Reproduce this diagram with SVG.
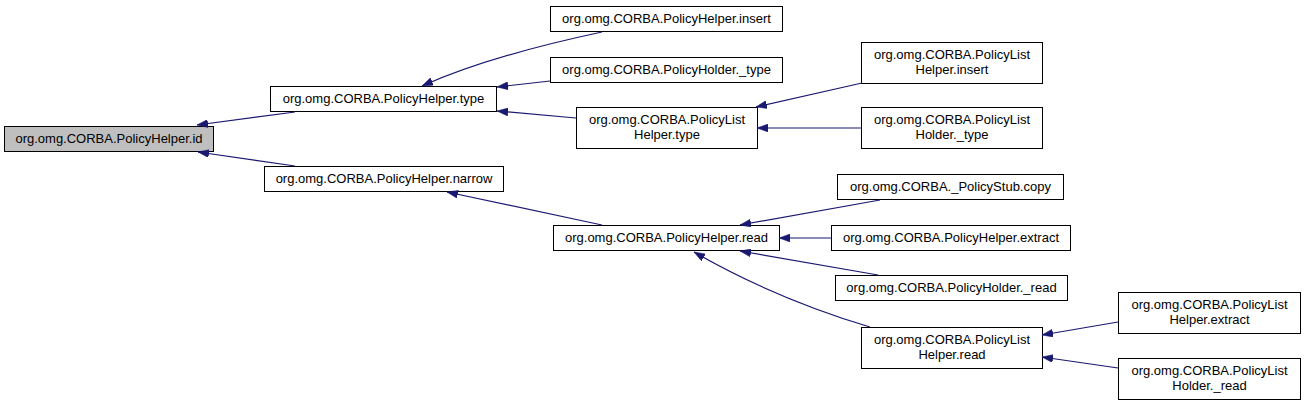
<svg xmlns="http://www.w3.org/2000/svg" width="1304" height="405" viewBox="0 0 1304 405">
<style>
.box{fill:#ffffff;stroke:#000000;stroke-width:1}
.root{fill:#bfbfbf;stroke:#000000;stroke-width:1}
text{font-family:"Liberation Sans",Arial,sans-serif;font-size:13px;fill:#000000;text-anchor:middle}
.edge{fill:none;stroke:#191970;stroke-width:1.2;marker-end:url(#arr)}
</style>
<defs>
<marker id="arr" viewBox="0 0 11 8" refX="11" refY="4" markerWidth="11" markerHeight="8" markerUnits="userSpaceOnUse" orient="auto">
<path d="M0,0 L11,4 L0,8 z" fill="#191970" stroke="#191970" stroke-width="0.5"/>
</marker>
</defs>
<rect width="1304" height="405" fill="#ffffff"/>
<g id="n_id"><rect class="root" x="4.5" y="126.5" width="209" height="25"/><text x="109" y="143">org.omg.CORBA.PolicyHelper.id</text></g>
<g id="n_type"><rect class="box" x="270.5" y="86.5" width="226" height="25"/><text x="383.5" y="103">org.omg.CORBA.PolicyHelper.type</text></g>
<g id="n_narrow"><rect class="box" x="264.5" y="166.5" width="239" height="25"/><text x="384" y="183">org.omg.CORBA.PolicyHelper.narrow</text></g>
<g id="n_insert"><rect class="box" x="550.5" y="6.5" width="232" height="25"/><text x="666.5" y="23">org.omg.CORBA.PolicyHelper.insert</text></g>
<g id="n_holder_type"><rect class="box" x="550.5" y="57.5" width="232" height="25"/><text x="666.5" y="74">org.omg.CORBA.PolicyHolder._type</text></g>
<g id="n_list_type"><rect class="box" x="576.5" y="107.5" width="181" height="41"/><text x="667" y="124">org.omg.CORBA.PolicyList</text><text x="667" y="139">Helper.type</text></g>
<g id="n_list_insert"><rect class="box" x="861.5" y="42.5" width="181" height="41"/><text x="952" y="59">org.omg.CORBA.PolicyList</text><text x="952" y="74">Helper.insert</text></g>
<g id="n_listholder_type"><rect class="box" x="861.5" y="107.5" width="181" height="41"/><text x="952" y="124">org.omg.CORBA.PolicyList</text><text x="952" y="139">Holder._type</text></g>
<g id="n_read"><rect class="box" x="553.5" y="225.5" width="226" height="25"/><text x="666.5" y="242">org.omg.CORBA.PolicyHelper.read</text></g>
<g id="n_copy"><rect class="box" x="837.5" y="174.5" width="226" height="25"/><text x="950.5" y="191">org.omg.CORBA._PolicyStub.copy</text></g>
<g id="n_extract"><rect class="box" x="831.5" y="225.5" width="239" height="25"/><text x="951" y="242">org.omg.CORBA.PolicyHelper.extract</text></g>
<g id="n_holder_read"><rect class="box" x="835.5" y="275.5" width="232" height="25"/><text x="951.5" y="292">org.omg.CORBA.PolicyHolder._read</text></g>
<g id="n_list_read"><rect class="box" x="861.5" y="327.5" width="181" height="41"/><text x="952" y="344">org.omg.CORBA.PolicyList</text><text x="952" y="359">Helper.read</text></g>
<g id="n_list_extract"><rect class="box" x="1118.5" y="292.5" width="182" height="41"/><text x="1209.5" y="309">org.omg.CORBA.PolicyList</text><text x="1209.5" y="324">Helper.extract</text></g>
<g id="n_listholder_read"><rect class="box" x="1118.5" y="358.5" width="182" height="41"/><text x="1209.5" y="375">org.omg.CORBA.PolicyList</text><text x="1209.5" y="390">Holder._read</text></g>
<g id="connectors">
<path class="edge" d="M295,112 L197,125"/>
<path class="edge" d="M295,166 L198,152"/>
<path class="edge" d="M602,32 C555,42 480,60 422,86"/>
<path class="edge" d="M550,81 L497,87"/>
<path class="edge" d="M576,118 L497,111"/>
<path class="edge" d="M862,83 L756,107"/>
<path class="edge" d="M861,128 L757,128"/>
<path class="edge" d="M602,225 L447,192"/>
<path class="edge" d="M880,200 L740,225"/>
<path class="edge" d="M831,238 L779,238"/>
<path class="edge" d="M878,275 L740,251"/>
<path class="edge" d="M870,327 C820,312 760,290 694,252"/>
<path class="edge" d="M1118,322 L1042,335"/>
<path class="edge" d="M1118,368 L1042,357"/>
</g>
</svg>
